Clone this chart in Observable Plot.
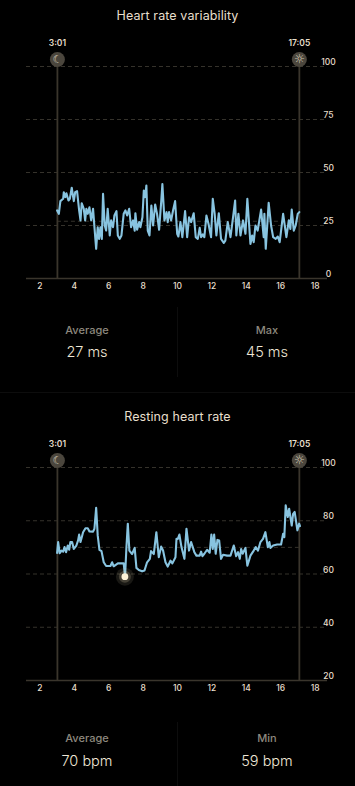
<!DOCTYPE html>
<html><head><meta charset="utf-8">
<script src="https://cdn.jsdelivr.net/npm/d3@7"></script>
<script src="https://cdn.jsdelivr.net/npm/@observablehq/plot@0.6"></script>
<style>
html,body{margin:0;padding:0;background:#000;}
body{position:relative;width:355px;height:786px;overflow:hidden;font-family:Inter,"Noto Sans",sans-serif;}
.t{position:absolute;left:0;width:355px;text-align:center;color:#e8dfcc;font-size:12.5px;line-height:16px;letter-spacing:.1px}
.l,.v{position:absolute;width:178px;text-align:center}
.l{color:#8d887e;font-size:11px;font-weight:500;line-height:14px}
.v{color:#efe7d6;font-size:14.5px;font-weight:300;line-height:20px}
.d{position:absolute;background:#0d0d0d}
.c{position:absolute;left:0}
svg{display:block}
</style></head><body>
<script>
const hrvHours=[3.0,3.10,3.19,3.35,3.39,3.48,3.54,3.66,3.74,3.85,3.97,4.05,4.16,4.28,4.36,4.43,4.55,4.63,4.70,4.78,4.88,4.98,5.09,5.17,5.27,5.36,5.44,5.52,5.60,5.67,5.77,5.85,5.94,6.06,6.14,6.25,6.33,6.45,6.53,6.64,6.74,6.87,6.97,7.07,7.19,7.30,7.42,7.51,7.55,7.65,7.77,7.84,7.96,8.04,8.12,8.19,8.27,8.37,8.48,8.58,8.70,8.81,8.93,9.05,9.12,9.24,9.36,9.43,9.51,9.63,9.74,9.86,9.98,10.05,10.17,10.28,10.44,10.56,10.67,10.79,10.94,11.06,11.18,11.29,11.37,11.47,11.56,11.68,11.80,11.95,12.05,12.16,12.26,12.40,12.53,12.69,12.78,12.92,13.08,13.23,13.35,13.42,13.54,13.66,13.81,13.95,14.06,14.24,14.34,14.43,14.53,14.66,14.86,15.01,15.05,15.13,15.30,15.44,15.56,15.71,15.83,15.94,16.14,16.33,16.47,16.56,16.64,16.76,16.87,16.99,17.08];
const hrvValues=[32.1,30.5,36.5,37.6,40.7,38.4,40.2,36.8,37.6,42.8,36.5,40.7,41.2,32.1,27.4,35.5,32.9,27.4,32.9,30.5,33.6,27.4,32.9,24.2,14.0,24.2,18.7,24.2,18.7,39.9,25.0,22.6,32.9,20.3,27.4,24.2,29.7,31.8,20.3,18.7,20.3,30.5,32.1,29.7,32.9,24.2,27.4,22.6,30.8,23.0,26.6,24.2,28.9,41.5,38.4,43.9,22.6,20.3,34.4,25.0,34.9,30.5,23.0,36.0,44.6,27.4,31.3,26.6,31.3,27.4,32.1,36.5,21.1,19.8,26.6,19.5,31.8,19.5,28.9,26.6,30.8,19.5,18.7,23.9,19.5,20.8,19.5,29.7,25.8,19.5,37.6,30.5,20.3,30.8,18.7,16.8,17.9,26.6,19.5,28.9,36.8,20.3,30.5,20.3,27.4,21.1,37.6,16.3,20.3,17.1,25.0,22.6,32.5,19.5,30.5,14.0,35.7,25.0,19.5,18.7,19.8,17.1,30.5,19.5,27.4,23.4,32.5,22.6,25.0,30.5,31.3];
const rhrHours=[3.0,3.06,3.15,3.25,3.35,3.43,3.52,3.62,3.70,3.77,3.87,3.97,4.12,4.22,4.28,4.36,4.51,4.65,4.78,4.88,5.09,5.17,5.27,5.36,5.46,5.58,5.71,5.85,6.10,6.20,6.29,6.53,6.87,6.95,7.03,7.11,7.20,7.36,7.51,7.61,7.75,7.94,8.08,8.23,8.39,8.46,8.62,8.77,8.91,9.05,9.16,9.30,9.43,9.59,9.70,9.88,9.94,10.02,10.11,10.23,10.40,10.52,10.67,10.79,10.98,11.10,11.29,11.37,11.45,11.56,11.72,11.87,11.97,12.05,12.13,12.22,12.32,12.42,12.53,12.65,12.88,13.08,13.27,13.41,13.52,13.62,13.70,13.79,13.95,14.06,14.24,14.43,14.55,14.68,14.82,14.97,15.11,15.25,15.34,15.40,15.56,15.79,16.02,16.14,16.21,16.29,16.41,16.49,16.64,16.72,16.81,16.97,17.07,17.12];
const rhrValues=[67.9,72,67.8,68.8,68.4,70.1,68.2,70.7,69.1,72,72,69.4,70.7,72.6,74.8,72,75.7,77.2,77.2,76,75.9,77,84.9,74.5,69.1,68.6,64.4,63,63,64.4,62.9,64,64,59,70,78.9,68.8,67.5,69.8,62.3,61.5,61,61.3,64.4,65.7,68.6,67.5,75.7,66.3,70.3,68.8,64.4,62.8,65,64,66.3,73.2,73.2,74.8,70.1,65.7,77,68.8,72,68.2,66.9,66.9,68.4,66.7,67.6,69.1,68,74.8,69.4,74.8,67.6,72.8,72.6,65.7,67.2,66.9,66.9,70.7,66.7,68.2,65.7,69.4,67.6,69.8,63.1,66.9,68.8,70.1,68.8,72,73.2,75.7,70.1,72,69.8,70.7,71.1,71.1,75.1,73.8,85.8,81.4,84.5,78.2,82.6,83.3,76.4,78.9,78];
const xTicks=[2,4,6,8,10,12,14,16,18];
const hrvTicks=[0,25,50,75,100];
const rhrTicks=[20,40,60,80,100];
const sleepStart=3.017, sleepEnd=17.083;
const startLabel="3:01", endLabel="17:05";
const cream="#e8dfcc", grid="#35322b", axisCol="#3a352c", lineCol="#88c4e0";
const fontFam='Inter,"Noto Sans",sans-serif';

function chart(hours,values,yDomain,yTicks,avg,extra,top,height){
  const data=hours.map((h,i)=>({h,v:values[i]}));
  const yMin=yDomain[0], yMax=yDomain[1];
  const xEdge=18.72;
  const p=Plot.plot({
    width:355,height,marginLeft:26,marginRight:28,marginTop:36,marginBottom:height-36-(yMin===0?212:213),
    style:{background:"transparent",fontFamily:fontFam,overflow:"visible"},
    x:{domain:[1.22,xEdge],axis:null},
    y:{domain:yDomain,axis:null},
    marks:[
      Plot.ruleY(yTicks.filter(d=>d!==yMin),{y:d=>d,stroke:grid,strokeWidth:1,strokeDasharray:"4,3"}),
      Plot.ruleY([avg],{y:d=>d,x1:sleepStart,x2:sleepEnd,stroke:grid,strokeWidth:1,strokeDasharray:"4,3"}),
      Plot.ruleY([yMin],{y:d=>d,stroke:axisCol,strokeWidth:1.5}),
      Plot.ruleX([sleepStart,sleepEnd],{x:d=>d,y1:yMin,y2:yMax,stroke:axisCol,strokeWidth:1.8}),
      Plot.dot([sleepStart,sleepEnd],{x:d=>d,y:()=>yMax,dy:-7,r:7.5,fill:"#4b463d"}),
      Plot.text(["\u263E"],{x:()=>sleepStart,y:()=>yMax,dy:-7,text:d=>d,fill:"#d8cfbb",fontSize:11,fontFamily:"DejaVu Sans"}),
      Plot.text(["\u263C"],{x:()=>sleepEnd,y:()=>yMax,dy:-7,text:d=>d,fill:"#d8cfbb",fontSize:12,fontFamily:"DejaVu Sans"}),
      Plot.text([[sleepStart,startLabel],[sleepEnd,endLabel]],{x:d=>d[0],y:()=>yMax,dy:-23,text:d=>d[1],fill:cream,fontSize:8.5,fontWeight:600}),
      Plot.line(data,{x:"h",y:"v",stroke:lineCol,strokeWidth:2.1,strokeLinejoin:"round"}),
      ...extra,
      Plot.text(yTicks,{x:()=>xEdge,y:d=>d,dx:1,dy:-4,text:d=>String(d),fill:cream,fontSize:8.5,fontWeight:500}),
      Plot.text(xTicks,{x:d=>d,y:()=>yMin,dy:8,text:d=>String(d),fill:cream,fontSize:8.5,fontWeight:500})
    ]
  });
  p.classList.add("c");
  p.style.top=top+"px";
  return p;
}
const minPoint=[{h:6.94,v:59}];
const minMarks=[
  Plot.dot(minPoint,{x:"h",y:"v",r:9,fill:"#f7e7c0",fillOpacity:.1}),
  Plot.dot(minPoint,{x:"h",y:"v",r:6,fill:"#f7e7c0",fillOpacity:.2}),
  Plot.dot(minPoint,{x:"h",y:"v",r:3.4,fill:"#fdf3d8"})
];
function add(cls,txt,css){const e=document.createElement("div");e.className=cls;e.textContent=txt;Object.assign(e.style,css);document.body.appendChild(e);}
document.body.appendChild(chart(hrvHours,hrvValues,[0,100],hrvTicks,27,[],30,270));
document.body.appendChild(chart(rhrHours,rhrValues,[20,100],rhrTicks,70,minMarks,431,271));
add("t","Heart rate variability",{top:8+"px"});
add("t","Resting heart rate",{top:409+"px"});
add("l","Average",{left:"-2px",top:"323px"});
add("v","27 ms",{left:"-2px",top:"342px"});
add("l","Max",{left:"178px",top:"323px"});
add("v","45 ms",{left:"178px",top:"342px"});
add("l","Average",{left:"-2px",top:"731px"});
add("v","70 bpm",{left:"-2px",top:"751px"});
add("l","Min",{left:"178px",top:"731px"});
add("v","59 bpm",{left:"178px",top:"751px"});
add("d","",{left:"177px",top:"307px",width:"1px",height:"70px"});
add("d","",{left:"0",top:"392px",width:"355px",height:"1px"});
add("d","",{left:"177px",top:"722px",width:"1px",height:"64px"});
</script>
</body></html>
